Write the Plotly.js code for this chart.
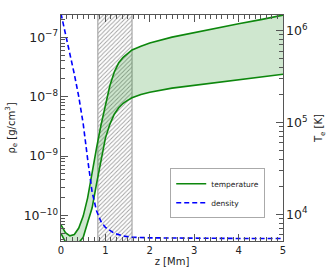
<!DOCTYPE html>
<html>
<head>
<meta charset="utf-8">
<script src="https://cdn.plot.ly/plotly-3.0.1.min.js"></script>
<style>html,body{margin:0;padding:0;background:#fff;}#chart{width:334px;height:268px;}</style>
</head>
<body>
<div id="chart"></div>
<script>
// height grid [Mm] for temperature
var tempZ = [0, 0.1, 0.2, 0.3, 0.4, 0.5, 0.6, 0.7, 0.8, 0.9, 1.0, 1.1, 1.2, 1.3, 1.4, 1.5, 1.6, 1.8, 2.0, 2.5, 3.0, 3.5, 4.0, 4.5, 5.0];
// upper temperature bound [K]
var tempMax = [7670, 6310, 5820, 6030, 7080, 9550, 15100, 28800, 52500, 93300, 158000, 251000, 355000, 447000, 513000, 569000, 617000, 676000, 733000, 851000, 955000, 1070000, 1190000, 1320000, 1480000];
// lower temperature bound [K]
var tempMin = [6170, 5010, 4570, 4570, 4900, 5620, 8130, 11700, 21400, 39800, 67600, 95500, 123000, 145000, 162000, 174000, 186000, 202000, 214000, 237000, 254000, 269000, 288000, 309000, 335000];
// density
var densZ = [0, 0.1, 0.2, 0.3, 0.4, 0.5, 0.6, 0.7, 0.8, 0.9, 1.0, 1.2, 1.4, 1.6, 2.0, 3.0, 4.0, 5.0];
var density = [2.5e-7, 1.17e-7, 5.5e-8, 2.4e-8, 1.0e-8, 3.5e-9, 8.9e-10, 2.5e-10, 1.2e-10, 7.9e-11, 6.3e-11, 5.0e-11, 4.5e-11, 4.3e-11, 4.2e-11, 4.1e-11, 4.1e-11, 4.1e-11];
// hatched band [Mm]
var hatchZ = [0.83, 1.6];
var legendNames = ['temperature', 'density'];

var green = '#0d870d';
var axisColor = '#555';
var font = {family: 'DejaVu Sans', size: 10, color: '#222'};

var tRange = [3.709, 6.171];
var dRange = [-10.43, -6.625];

var traces = [
  {
    x: [hatchZ[0], hatchZ[1], hatchZ[1], hatchZ[0], hatchZ[0]],
    y: [Math.pow(10, tRange[0] - 1), Math.pow(10, tRange[0] - 1), Math.pow(10, tRange[1] + 1), Math.pow(10, tRange[1] + 1), Math.pow(10, tRange[0] - 1)],
    yaxis: 'y', mode: 'lines', fill: 'toself',
    fillcolor: 'rgba(255,255,255,0)',
    fillpattern: {shape: '/', fgcolor: '#a0a0a0', bgcolor: 'rgba(255,255,255,0)', size: 3, solidity: 0.3},
    line: {color: '#999', width: 1}, showlegend: false, hoverinfo: 'skip'
  },
  {
    x: tempZ, y: tempMin, yaxis: 'y', mode: 'lines',
    line: {color: green, width: 1.6}, showlegend: false
  },
  {
    x: tempZ, y: tempMax, yaxis: 'y', mode: 'lines', fill: 'tonexty',
    fillcolor: 'rgba(0,128,0,0.19)',
    line: {color: green, width: 1.6}, showlegend: false
  },
  {
    x: [null], y: [null], yaxis: 'y', mode: 'lines', name: legendNames[0],
    line: {color: green, width: 1.6}
  },
  {
    x: densZ, y: density, yaxis: 'y2', mode: 'lines', name: legendNames[1],
    line: {color: '#0000ff', width: 1.6, dash: '5px,3px'}
  }
];

var logAxis = {
  type: 'log', dtick: 1, exponentformat: 'power',
  ticks: 'inside', ticklen: 7, tickcolor: axisColor, tickwidth: 1,
  minor: {dtick: 'D1', ticks: 'inside', ticklen: 4, tickcolor: axisColor},
  showline: true, linecolor: axisColor, linewidth: 1,
  showgrid: false, zeroline: false, tickfont: font
};

var layout = {
  width: 334, height: 268,
  margin: {l: 61, r: 51, t: 15, b: 27},
  paper_bgcolor: '#fff', plot_bgcolor: '#fff',
  font: font,
  showlegend: true,
  xaxis: {
    range: [0, 5], dtick: 1, ticks: 'inside', ticklen: 7, tickcolor: axisColor,
    minor: {dtick: 0.125, ticks: 'inside', ticklen: 4, tickcolor: axisColor},
    showline: true, mirror: 'ticks', linecolor: axisColor, linewidth: 1,
    showgrid: false, zeroline: false, tickfont: font,
    title: {text: 'z [Mm]', font: font, standoff: 2}
  },
  yaxis: Object.assign({}, logAxis, {
    side: 'right', range: tRange,
    title: {text: 'T<sub>e</sub> [K]', font: font, standoff: 8}
  }),
  yaxis2: Object.assign({}, logAxis, {
    side: 'left', overlaying: 'y', range: dRange,
    title: {text: 'ρ<sub>e</sub> [g/cm<sup>3</sup>]', font: font, standoff: 6}
  }),
  legend: {
    x: 0.492, y: 0.322, xanchor: 'left', yanchor: 'top',
    traceorder: 'normal',
    bgcolor: '#fff', bordercolor: '#aaa', borderwidth: 1,
    font: {family: 'DejaVu Sans', size: 7.5, color: '#222'},
    itemwidth: 30, tracegroupgap: 0
  }
};

Plotly.newPlot('chart', traces, layout, {staticPlot: true, displayModeBar: false});
</script>
</body>
</html>
